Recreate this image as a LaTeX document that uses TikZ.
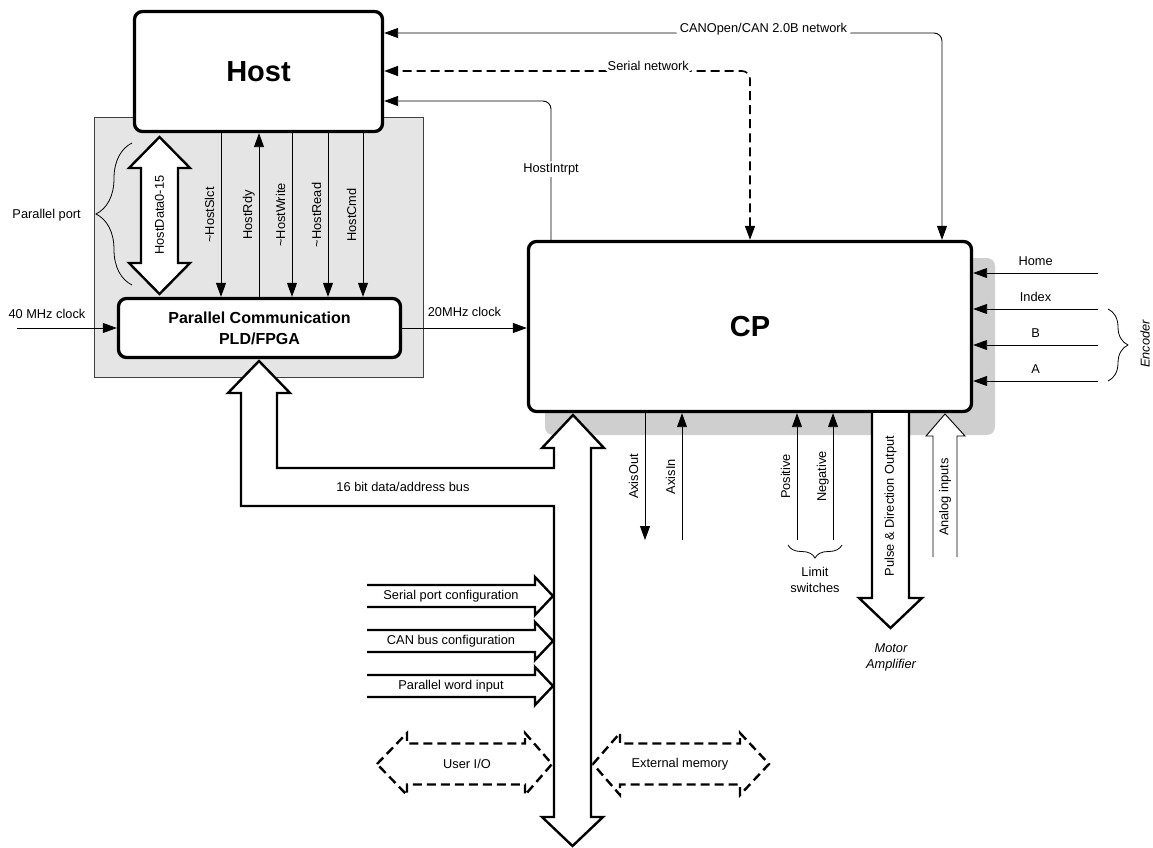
\documentclass[tikz,border=0pt]{standalone}
\usepackage{fontspec}
\setmainfont{Liberation Sans}
\usetikzlibrary{arrows.meta,positioning,decorations.pathreplacing}
\definecolor{panelgray}{gray}{0.9}
\definecolor{shadowgray}{gray}{0.81}

\begin{document}
\begin{tikzpicture}[
  x=1pt, y=-1pt,
  blk/.style={draw,line width=3.3pt,rounded corners=8pt,fill=white,inner sep=0pt,align=center},
  sig/.style={line width=0.9pt,-{Triangle[length=14pt,width=10pt]}},
  sigboth/.style={line width=0.9pt,{Triangle[length=14pt,width=10pt]}-{Triangle[length=14pt,width=10pt]},rounded corners=8pt},
  lbl/.style={font=\fontsize{12.8}{15.5}\selectfont,inner sep=2pt},
  vlbl/.style={lbl,rotate=90,anchor=south,text depth=0pt,inner ysep=6.5pt},
  toplbl/.style={lbl,fill=white,anchor=base,inner xsep=4pt},
  bus/.style={draw,line width=2.4pt,fill=white,miter limit=20},
  dbus/.style={bus,dash pattern=on 9pt off 5pt},
  brc/.style={decorate,line width=0.8pt}
]
  \useasboundingbox (0,0) rectangle (1153,848);

  \node[draw=black!75,line width=0.8pt,fill=panelgray,minimum width=329pt,minimum height=260pt,inner sep=0pt] (panel) at (258.5,247) {};
  \node[fill=shadowgray,rounded corners=8pt,minimum width=450pt,minimum height=177pt,inner sep=0pt] (shadow) at (770,346.5) {};

  \node[blk,minimum width=248pt,minimum height=120pt,font=\fontsize{29}{34}\selectfont\bfseries] (host) at (258.5,71.5) {Host};
  \node[blk,minimum width=282pt,minimum height=59pt,font=\fontsize{16}{21}\selectfont\bfseries] (comm) at (259.5,328) {Parallel Communication\\PLD/FPGA};
  \node[blk,minimum width=443pt,minimum height=170pt,font=\fontsize{29}{34}\selectfont\bfseries] (cp) at (750,326.5) {CP};

  \foreach \x/\txt in {221/{\textasciitilde HostSlct},292/{\textasciitilde HostWrite},328/{\textasciitilde HostRead},363/HostCmd}
    \draw[sig] (host.south -| \x,0) -- node[vlbl] {\txt} (comm.north -| \x,0);
  \draw[sig] (comm.north -| 259,0) -- node[vlbl] (rdylbl) {HostRdy} (host.south -| 259,0);

  \filldraw[bus] (159.5,137) -- (190,168) -- (178,168) -- (178,263) -- (190,263) -- (159.5,294) -- (129,263) -- (141,263) -- (141,168) -- (129,168) -- cycle;
  \node[lbl,rotate=90] (hdata) at (159.5,215) {HostData0-15};
  \draw[brc,decoration={brace,amplitude=36pt}] (132,285) -- (132,143);
  \node[lbl,anchor=east] (pport) at (83,215) {Parallel port};

  \coordinate (clkin) at (17,328);
  \draw[sig] (clkin) -- node[lbl,above,pos=0.3,text depth=0pt,inner ysep=9.5pt] (clk40) {40 MHz clock} (comm.west);
  \draw[sig] (comm.east) -- node[lbl,above,text depth=0pt,inner ysep=11.5pt] (clk20) {20MHz clock} (cp.west |- comm.east);

  \draw[sigboth] (cp.north -| 942,0) |- node[toplbl,pos=0.66] (canlbl) {CANOpen/CAN 2.0B network} (host.east |- 0,33);
  \draw[sigboth,line width=1.6pt,dash pattern=on 9pt off 5pt] (cp.north -| 750,0) |- node[toplbl,pos=0.639] (serlbl) {Serial network} (host.east |- 0,71);
  \draw[sig,rounded corners=8pt] (cp.north -| 551,0) |- node[lbl,fill=white,pos=0.255] (intlbl) {HostIntrpt} (host.east |- 0,101);

  \foreach \y/\txt [count=\i] in {273/Home,309/Index,345/B,381/A} {
    \coordinate (enc\i) at (1098,\y);
    \draw[sig] (enc\i) -- node[lbl,above,text depth=0pt,inner ysep=7pt] (enclbl\i) {\txt} (cp.east |- enc\i);
  }
  \draw[brc,decoration={brace,amplitude=20pt}] (1108,309) -- (1108,381);
  \node[lbl,rotate=90,font=\fontsize{12.8}{15.5}\selectfont\itshape] (encoder) at (1145,344) {Encoder};

  \coordinate (axout) at (645,540);
  \coordinate (axin) at (682,540);
  \coordinate (limpos) at (797,540);
  \coordinate (limneg) at (833,540);
  \draw[sig] (cp.south -| axout) -- node[vlbl] (axoutlbl) {AxisOut} (axout);
  \draw[sig] (axin) -- node[vlbl] (axinlbl) {AxisIn} (cp.south -| axin);
  \draw[sig] (limpos) -- node[vlbl] (poslbl) {Positive} (cp.south -| limpos);
  \draw[sig] (limneg) -- node[vlbl] (neglbl) {Negative} (cp.south -| limneg);
  \draw[brc,decoration={brace,amplitude=13pt}] (842,545) -- (788,545);
  \node[lbl,align=center] (limit) at (815,580) {Limit\\switches};

  \filldraw[bus] (872,413) -- (872,598) -- (859,598) -- (890.5,628) -- (922,598) -- (909,598) -- (909,413);
  \node[lbl,rotate=90] (pulse) at (890.5,506) {Pulse \& Direction Output};
  \node[lbl,align=center,font=\fontsize{12.8}{16}\selectfont\itshape] (motor) at (891,657.5) {Motor\\Amplifier};

  \filldraw[fill=white,line width=0.9pt] (933,557) -- (933,436) -- (926,436) -- (945,414) -- (965,436) -- (957,436) -- (957,557);
  \node[lbl,rotate=90] (analog) at (945,497) {Analog inputs};

  \foreach \y/\txt [count=\i] in {596/Serial port configuration,641/CAN bus configuration,686/Parallel word input} {
    \filldraw[bus] (367,\y-11) -- (535,\y-11) -- (535,\y-19) -- (553,\y) -- (535,\y+19) -- (535,\y+11) -- (367,\y+11);
    \node[lbl] (cfg\i) at (451,\y) {\txt};
  }

  \draw[dbus] (377,764) -- (407,733) -- (407,743.5) -- (525,743.5) -- (525,733) -- (552,764) -- (525,795) -- (525,784.5) -- (407,784.5) -- (407,795) -- cycle;
  \node[lbl] (userio) at (467,764) {User I/O};
  \draw[dbus] (593,764) -- (620,733) -- (620,743.5) -- (740,743.5) -- (740,733) -- (769,764) -- (740,795) -- (740,784.5) -- (620,784.5) -- (620,795) -- cycle;
  \node[lbl] (extmem) at (680,764) {External memory};

  \filldraw[bus] (241,393) -- (241,506) -- (554,506) -- (554,817) -- (542,817) -- (572.5,846) -- (603,817) -- (591,817) -- (591,448) -- (604,448) -- (573,415) -- (542,448) -- (554,448) -- (554,468) -- (277,468) -- (277,393) -- (290,393) -- (259,361) -- (228,393) -- cycle;
  \node[lbl] (buslbl) at (403,487) {16 bit data/address bus};
\end{tikzpicture}
\end{document}
